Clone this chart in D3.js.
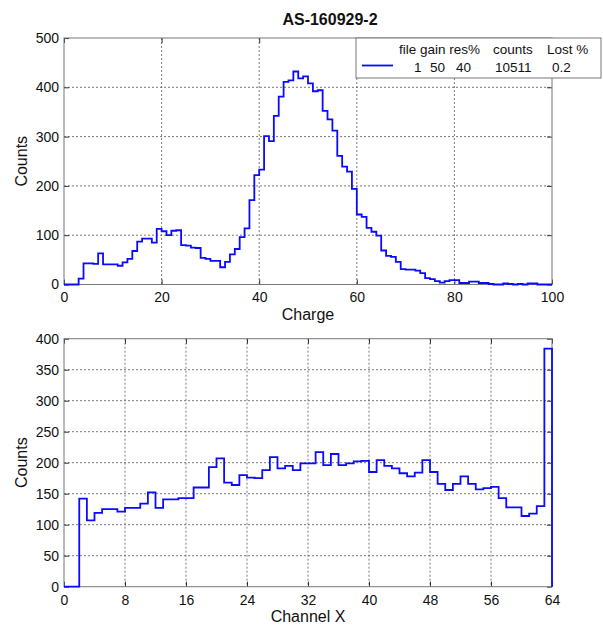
<!DOCTYPE html>
<html>
<head>
<meta charset="utf-8">
<script src="https://d3js.org/d3.v7.min.js"></script>
<style>
  body { margin: 0; background: #fff; }
  svg text { font-family: "Liberation Sans", Arial, sans-serif; fill: #111; }
</style>
</head>
<body>
<div id="chart"></div>
<script>
//---------------------------------- Data --------------------
var chartTitle = "AS-160929-2";

// counts per charge bin (bin width 1, 0..100)
var chargeCounts = [
  0, 0, 0, 12, 43, 43, 42, 63, 41, 41,
  41, 38, 45, 52, 68, 87, 93, 93, 85, 113,
  108, 100, 109, 110, 80, 79, 75, 74, 54, 52,
  48, 48, 35, 46, 61, 72, 96, 114, 171, 222,
  233, 301, 291, 342, 381, 411, 414, 432, 418, 422,
  408, 392, 394, 352, 335, 312, 261, 239, 229, 194,
  142, 137, 115, 107, 99, 69, 58, 56, 46, 31,
  30, 30, 28, 23, 13, 11, 7, 4, 7, 9,
  9, 3, 3, 6, 6, 3, 3, 1, 0, 0,
  2, 1, 0, 1, 0, 2, 2, 0, 0, 0
];

// counts per channel X (0..63)
var channelCounts = [
  0, 0, 142, 107, 119, 125, 125, 121, 127, 127,
  134, 152, 127, 141, 141, 143, 143, 160, 160, 193,
  207, 168, 164, 180, 176, 175, 188, 209, 191, 195,
  188, 199, 199, 217, 196, 214, 196, 199, 202, 203,
  185, 204, 195, 191, 183, 178, 184, 204, 185, 166,
  156, 166, 178, 166, 157, 159, 161, 143, 128, 128,
  114, 118, 130, 384
];

var chargeTicks = [0, 20, 40, 60, 80, 100];
var chargeYTicks = [0, 100, 200, 300, 400, 500];
var channelTicks = [0, 8, 16, 24, 32, 40, 48, 56, 64];
var channelYTicks = [0, 50, 100, 150, 200, 250, 300, 350, 400];

var legendHeader = ["file gain res%", "counts", "Lost %"];
var legendValues = ["1", "50", "40", "10511", "0.2"];

//---------------------------------- SVG --------------------
var width = 603, height = 625;
var svg = d3.select("#chart").append("svg")
    .attr("width", width)
    .attr("height", height);

var plot_left = 64, plot_right = 552;
var line_color = "#0a0aff";

svg.append("text")
   .attr("x", 330)
   .attr("y", 25)
   .attr("text-anchor", "middle")
   .style("font-size", "16px")
   .style("font-weight", "bold")
   .text(chartTitle);

// step outline of a histogram, starting and ending on the zero line
function stepPoints(counts){
    var pts = [[0, 0]];
    counts.forEach(function(v, i){
        pts.push([i, v]);
        pts.push([i + 1, v]);
    });
    pts.push([counts.length, 0]);
    return pts;
}

function drawPanel(opt){
    var g = svg.append("g");
    var x_scale = d3.scaleLinear().domain(opt.xDomain).range([plot_left, plot_right]);
    var y_scale = d3.scaleLinear().domain(opt.yDomain).range([opt.bottom, opt.top]);
    var w = plot_right - plot_left, h = opt.bottom - opt.top;

    // ---------- grid ----------
    g.append("g").selectAll("line").data(opt.xTicks.slice(1, -1)).enter().append("line")
        .attr("x1", function(d){ return x_scale(d); })
        .attr("x2", function(d){ return x_scale(d); })
        .attr("y1", opt.top).attr("y2", opt.bottom)
        .attr("stroke", "#555").attr("stroke-dasharray", "2,2").attr("stroke-width", 0.8);
    g.append("g").selectAll("line").data(opt.yTicks.slice(1, -1)).enter().append("line")
        .attr("y1", function(d){ return y_scale(d); })
        .attr("y2", function(d){ return y_scale(d); })
        .attr("x1", plot_left).attr("x2", plot_right)
        .attr("stroke", "#555").attr("stroke-dasharray", "2,2").attr("stroke-width", 0.8);

    // ---------- axes (inward ticks on all four sides) ----------
    var ax_b = g.append("g").attr("transform", "translate(0," + opt.bottom + ")")
        .call(d3.axisBottom(x_scale).tickValues(opt.xTicks).tickSizeInner(-5).tickSizeOuter(0).tickPadding(10));
    var ax_l = g.append("g").attr("transform", "translate(" + plot_left + ",0)")
        .call(d3.axisLeft(y_scale).tickValues(opt.yTicks).tickSizeInner(-5).tickSizeOuter(0).tickPadding(10));
    g.append("g").attr("transform", "translate(0," + opt.top + ")")
        .call(d3.axisTop(x_scale).tickValues(opt.xTicks).tickSizeInner(-5).tickSizeOuter(0).tickFormat(""));
    g.append("g").attr("transform", "translate(" + plot_right + ",0)")
        .call(d3.axisRight(y_scale).tickValues(opt.yTicks).tickSizeInner(-5).tickSizeOuter(0).tickFormat(""));
    g.selectAll(".domain").remove();
    g.selectAll(".tick line").attr("stroke", "#333");
    ax_b.selectAll("text").style("font-size", "14px").attr("dy", "0.71em").attr("y", 8);
    ax_l.selectAll("text").style("font-size", "14px").attr("x", -5);

    g.append("rect")
        .attr("x", plot_left).attr("y", opt.top)
        .attr("width", w).attr("height", h)
        .attr("fill", "none").attr("stroke", "#777").attr("stroke-width", 1);

    // ---------- histogram ----------
    var line = d3.line()
        .x(function(d){ return x_scale(d[0]); })
        .y(function(d){ return y_scale(d[1]); });
    g.append("path")
        .datum(stepPoints(opt.counts))
        .attr("d", line)
        .attr("fill", "none")
        .attr("stroke", line_color)
        .attr("stroke-width", 1.8);

    // ---------- labels ----------
    g.append("text")
        .attr("x", (plot_left + plot_right) / 2)
        .attr("y", opt.bottom + 35)
        .attr("text-anchor", "middle")
        .style("font-size", "16px")
        .text(opt.xLabel);
    g.append("text")
        .attr("transform", "translate(27," + (opt.top + h / 2) + ") rotate(-90)")
        .attr("text-anchor", "middle")
        .style("font-size", "16px")
        .text("Counts");
    return g;
}

drawPanel({ counts: chargeCounts, xDomain: [0, 100], yDomain: [0, 500],
            xTicks: chargeTicks, yTicks: chargeYTicks,
            top: 38, bottom: 284.5, xLabel: "Charge" });

drawPanel({ counts: channelCounts, xDomain: [0, 64], yDomain: [0, 400],
            xTicks: channelTicks, yTicks: channelYTicks,
            top: 338.7, bottom: 586.7, xLabel: "Channel X" });

//---------------------------------- Legend --------------------
var leg = svg.append("g");
leg.append("rect")
   .attr("x", 356).attr("y", 38)
   .attr("width", 245).attr("height", 40)
   .attr("fill", "#fff").attr("stroke", "#777").attr("stroke-width", 1);
leg.append("line")
   .attr("x1", 362).attr("x2", 393)
   .attr("y1", 65.5).attr("y2", 65.5)
   .attr("stroke", line_color).attr("stroke-width", 1.8);

var header_x = [399, 493, 547];
leg.selectAll(".leg_head").data(legendHeader).enter().append("text")
   .attr("class", "leg_head")
   .attr("x", function(d, i){ return header_x[i]; })
   .attr("y", 54)
   .style("font-size", "13.5px")
   .text(function(d){ return d; });

var value_x = [414, 430, 456, 495, 552];
leg.selectAll(".leg_val").data(legendValues).enter().append("text")
   .attr("class", "leg_val")
   .attr("x", function(d, i){ return value_x[i]; })
   .attr("y", 72)
   .style("font-size", "13.5px")
   .text(function(d){ return d; });
</script>
</body>
</html>
